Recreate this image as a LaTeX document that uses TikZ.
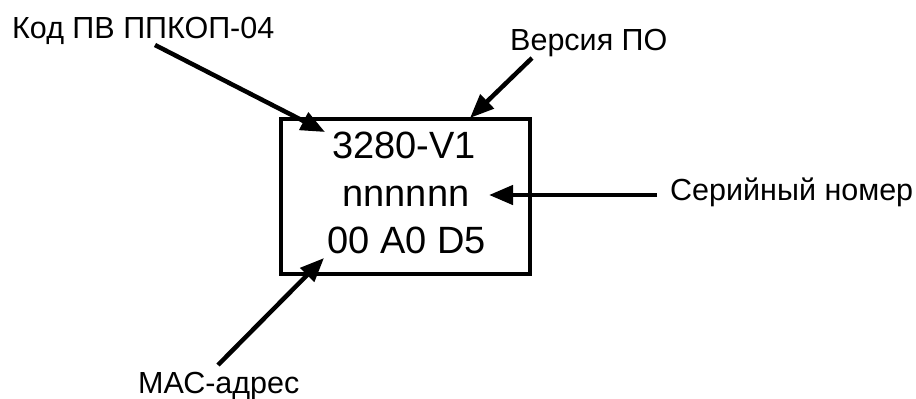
\documentclass[tikz,border=0pt]{standalone}
\usepackage{fontspec}
\setmainfont{Liberation Sans}
\usetikzlibrary{arrows.meta}
\begin{document}
\begin{tikzpicture}[x=1pt,y=-1pt,
  lbl/.style={inner sep=0pt,anchor=base west,font=\fontsize{30.5}{36}\selectfont},
  boxtxt/.style={inner sep=0pt,anchor=base,font=\fontsize{38}{44}\selectfont},
  pointer/.style={line width=4.5pt,-{Triangle[length=24pt,width=19pt]}},
  frame/.style={draw,line width=4pt,minimum width=249pt,minimum height=155pt,inner sep=0pt}]
\useasboundingbox (0,0) rectangle (916,399);
% box
\node[frame] (box) at (405.5,196.5) {};
\node[boxtxt] (t1) at (404,158) {3280-V1};
\node[boxtxt] (t2) at (406,206) {nnnnnn};
\node[boxtxt] (t3) at (406.5,253) {00 A0 D5};
% labels
\node[lbl] (kod) at (12,38) {Код ПВ ППКОП-04};
\node[lbl] (ver) at (510,50) {Версия ПО};
\node[lbl] (ser) at (670,200) {Серийный номер};
\node[lbl] (mac) at (138,393) {МАС-адрес};
% arrow ends
\coordinate (a1s) at (155,45);  \coordinate (a1e) at (325,132);
\coordinate (a2s) at (532,58);  \coordinate (a2e) at (470,118);
\coordinate (a3s) at (657,195); \coordinate (a3e) at (489,195);
\coordinate (a4s) at (218,365); \coordinate (a4e) at (324,258);
\draw[pointer] (a1s) -- (a1e);
\draw[pointer] (a2s) -- (a2e);
\draw[pointer] (a3s) -- (a3e);
\draw[pointer] (a4s) -- (a4e);
\end{tikzpicture}
\end{document}
